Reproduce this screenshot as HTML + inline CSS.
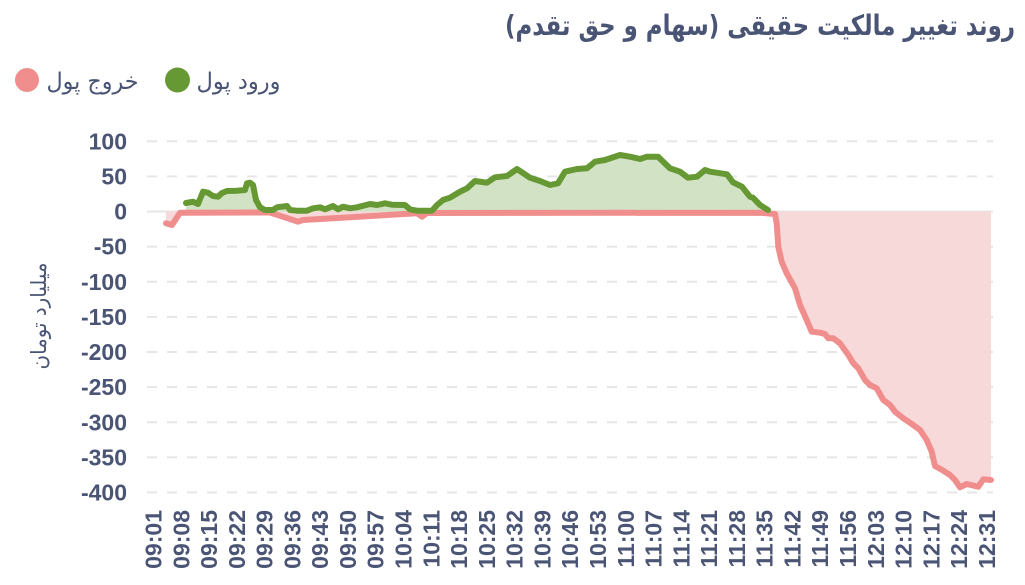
<!DOCTYPE html>
<html><head><meta charset="utf-8"><style>
html,body{margin:0;padding:0;background:#fff;}
svg{display:block;}
</style></head><body>
<svg width="1025" height="585" viewBox="0 0 1025 585" xmlns="http://www.w3.org/2000/svg">
<rect width="1025" height="585" fill="#fff"/>
<!-- Title -->
<text x="760" y="35" text-anchor="middle" style="direction:rtl" font-family="DejaVu Sans, sans-serif" font-weight="bold" font-size="28" fill="#4a5474" textLength="510" lengthAdjust="spacingAndGlyphs">روند تغییر مالکیت حقیقی (سهام و حق تقدم)</text>
<!-- Legend -->
<circle cx="27" cy="80" r="12" fill="#f08e8e"/>
<text x="92.5" y="89" text-anchor="middle" style="direction:rtl" font-family="DejaVu Sans, sans-serif" font-size="23" fill="#4a5474" textLength="92" lengthAdjust="spacingAndGlyphs">خروج پول</text>
<circle cx="177.5" cy="80" r="12.5" fill="#669933"/>
<text x="238.5" y="89" text-anchor="middle" style="direction:rtl" font-family="DejaVu Sans, sans-serif" font-size="23" fill="#4a5474" textLength="84" lengthAdjust="spacingAndGlyphs">ورود پول</text>
<!-- Y axis title -->
<text transform="translate(46,316) rotate(-90)" text-anchor="middle" style="direction:rtl" font-family="DejaVu Sans, sans-serif" font-size="21" fill="#4a5474" textLength="107" lengthAdjust="spacingAndGlyphs">میلیارد تومان</text>
<!-- Gridlines -->
<g stroke="#e6e6e6" stroke-width="2" stroke-dasharray="10,10">
<line x1="147" x2="993" y1="141.25" y2="141.25"/>
<line x1="147" x2="993" y1="176.4" y2="176.4"/>
<line x1="147" x2="993" y1="246.6" y2="246.6"/>
<line x1="147" x2="993" y1="281.75" y2="281.75"/>
<line x1="147" x2="993" y1="316.9" y2="316.9"/>
<line x1="147" x2="993" y1="352" y2="352"/>
<line x1="147" x2="993" y1="387.1" y2="387.1"/>
<line x1="147" x2="993" y1="422.25" y2="422.25"/>
<line x1="147" x2="993" y1="457.4" y2="457.4"/>
<line x1="147" x2="993" y1="492.5" y2="492.5"/>
</g>
<line x1="147" x2="993" y1="211.5" y2="211.5" stroke="#e6e6e6" stroke-width="2"/>
<!-- Y labels -->
<g font-family="Liberation Sans, Arial, sans-serif" font-weight="bold" font-size="23" fill="#4a5474" text-anchor="end">
<text x="127" y="149.25">100</text>
<text x="127" y="184.4">50</text>
<text x="127" y="219.5">0</text>
<text x="127" y="254.6">-50</text>
<text x="127" y="289.75">-100</text>
<text x="127" y="324.9">-150</text>
<text x="127" y="360">-200</text>
<text x="127" y="395.1">-250</text>
<text x="127" y="430.25">-300</text>
<text x="127" y="465.4">-350</text>
<text x="127" y="500.5">-400</text>
</g>
<!-- Fills -->
<path fill="#f8d9da" d="M166,211.5 L166,223.3 L172,225 L180,212.7 L270,212.5 L298,221.7 L303,220 L417,213.3 L422,216.7 L427,213 L760,212.7 L775,214 L776.7,223.3 L778.3,246.7 L781.7,261.7 L786.7,273.3 L795,288.3 L800,305 L806.7,320 L811.7,331.7 L820,332.7 L825,334 L828.3,338.3 L833.3,338.3 L840,343.3 L848.3,355 L853.3,363.3 L858.3,368.3 L865,380 L870,385 L876.7,388.3 L883.3,400 L890,405 L895,411.7 L903.3,418.3 L910,422.7 L920,430 L926.7,440 L931.7,451.7 L935,466 L943.3,470.7 L950,475 L955,480 L960,487.3 L966.7,484 L978.3,486.7 L983.3,479.3 L991,480 L991,211.5 Z"/>
<path fill="#d2e2c4" d="M186,211.5 L186,203 L193,201.7 L198,204 L203,191.7 L208,192.7 L213,196 L218,196.7 L222,193 L227,191 L237,190.7 L245,190 L247,183.3 L250,182.7 L253,185 L256,200 L260,207.3 L265,210 L273,210 L277,207.3 L287,206 L290,210 L297,210.7 L307,210.7 L313,208.3 L320,207.3 L325,209.3 L333,206 L338,209.3 L343,206.7 L350,208.3 L357,207.3 L370,204 L377,205 L385,203.3 L392,204.7 L405,205 L410,209.3 L417,210.7 L432,210.7 L437,205 L443,200 L450,197.7 L460,191.7 L467,188.3 L475,181 L487,182.7 L495,177.3 L507,176 L517,169 L530,177.7 L540,181 L550,185 L558,183.3 L565,171.7 L577,169 L587,168.3 L595,161.7 L605,160 L620,155 L630,156.7 L640,159 L647,156.7 L658,156.7 L670,168.3 L680,171.7 L688,177.7 L697,176.7 L705,170 L710,171.7 L727,174.3 L733,182.3 L742,186.7 L750,196.7 L753,197.7 L760,205 L768,210 L768,211.5 Z"/>
<!-- Lines -->
<path fill="none" stroke="#f08e8e" stroke-width="6" stroke-linejoin="round" stroke-linecap="round" d="M166,223.3 L172,225 L180,212.7 L270,212.5 L298,221.7 L303,220 L417,213.3 L422,216.7 L427,213 L760,212.7 L775,214 L776.7,223.3 L778.3,246.7 L781.7,261.7 L786.7,273.3 L795,288.3 L800,305 L806.7,320 L811.7,331.7 L820,332.7 L825,334 L828.3,338.3 L833.3,338.3 L840,343.3 L848.3,355 L853.3,363.3 L858.3,368.3 L865,380 L870,385 L876.7,388.3 L883.3,400 L890,405 L895,411.7 L903.3,418.3 L910,422.7 L920,430 L926.7,440 L931.7,451.7 L935,466 L943.3,470.7 L950,475 L955,480 L960,487.3 L966.7,484 L978.3,486.7 L983.3,479.3 L991,480"/>
<path fill="none" stroke="#669933" stroke-width="6" stroke-linejoin="round" stroke-linecap="round" d="M186,203 L193,201.7 L198,204 L203,191.7 L208,192.7 L213,196 L218,196.7 L222,193 L227,191 L237,190.7 L245,190 L247,183.3 L250,182.7 L253,185 L256,200 L260,207.3 L265,210 L273,210 L277,207.3 L287,206 L290,210 L297,210.7 L307,210.7 L313,208.3 L320,207.3 L325,209.3 L333,206 L338,209.3 L343,206.7 L350,208.3 L357,207.3 L370,204 L377,205 L385,203.3 L392,204.7 L405,205 L410,209.3 L417,210.7 L432,210.7 L437,205 L443,200 L450,197.7 L460,191.7 L467,188.3 L475,181 L487,182.7 L495,177.3 L507,176 L517,169 L530,177.7 L540,181 L550,185 L558,183.3 L565,171.7 L577,169 L587,168.3 L595,161.7 L605,160 L620,155 L630,156.7 L640,159 L647,156.7 L658,156.7 L670,168.3 L680,171.7 L688,177.7 L697,176.7 L705,170 L710,171.7 L727,174.3 L733,182.3 L742,186.7 L750,196.7 L753,197.7 L760,205 L768,210"/>
<!-- X labels -->
<g font-family="Liberation Sans, Arial, sans-serif" font-weight="bold" font-size="23" fill="#4a5474" text-anchor="end">
<text transform="translate(161.5,510) rotate(-90)">09:01</text>
<text transform="translate(189.28,510) rotate(-90)">09:08</text>
<text transform="translate(217.06,510) rotate(-90)">09:15</text>
<text transform="translate(244.84,510) rotate(-90)">09:22</text>
<text transform="translate(272.62,510) rotate(-90)">09:29</text>
<text transform="translate(300.4,510) rotate(-90)">09:36</text>
<text transform="translate(328.18,510) rotate(-90)">09:43</text>
<text transform="translate(355.96,510) rotate(-90)">09:50</text>
<text transform="translate(383.74,510) rotate(-90)">09:57</text>
<text transform="translate(411.52,510) rotate(-90)">10:04</text>
<text transform="translate(439.3,510) rotate(-90)">10:11</text>
<text transform="translate(467.08,510) rotate(-90)">10:18</text>
<text transform="translate(494.86,510) rotate(-90)">10:25</text>
<text transform="translate(522.64,510) rotate(-90)">10:32</text>
<text transform="translate(550.42,510) rotate(-90)">10:39</text>
<text transform="translate(578.2,510) rotate(-90)">10:46</text>
<text transform="translate(605.98,510) rotate(-90)">10:53</text>
<text transform="translate(633.76,510) rotate(-90)">11:00</text>
<text transform="translate(661.54,510) rotate(-90)">11:07</text>
<text transform="translate(689.32,510) rotate(-90)">11:14</text>
<text transform="translate(717.1,510) rotate(-90)">11:21</text>
<text transform="translate(744.88,510) rotate(-90)">11:28</text>
<text transform="translate(772.66,510) rotate(-90)">11:35</text>
<text transform="translate(800.44,510) rotate(-90)">11:42</text>
<text transform="translate(828.22,510) rotate(-90)">11:49</text>
<text transform="translate(856,510) rotate(-90)">11:56</text>
<text transform="translate(883.78,510) rotate(-90)">12:03</text>
<text transform="translate(911.56,510) rotate(-90)">12:10</text>
<text transform="translate(939.34,510) rotate(-90)">12:17</text>
<text transform="translate(967.12,510) rotate(-90)">12:24</text>
<text transform="translate(994.9,510) rotate(-90)">12:31</text>
</g>
</svg>
</body></html>
